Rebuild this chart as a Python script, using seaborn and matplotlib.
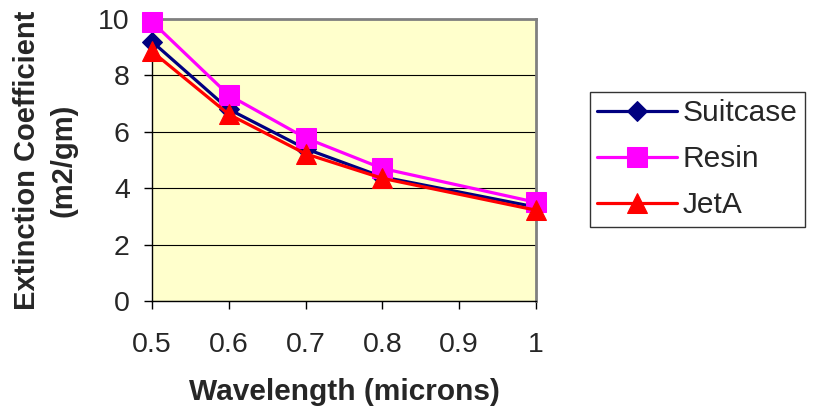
import matplotlib
matplotlib.use("Agg")
import matplotlib.pyplot as plt
import seaborn as sns
import pandas as pd

wavelength = [0.5, 0.6, 0.7, 0.8, 1.0]
suitcase = [9.2, 6.8, 5.4, 4.4, 3.33]
resin = [9.9, 7.3, 5.78, 4.7, 3.5]
jeta = [8.85, 6.62, 5.22, 4.35, 3.22]

series_names = ["Suitcase", "Resin", "JetA"]
series_values = [suitcase, resin, jeta]
colors = {"Suitcase": "#000080", "Resin": "#FF00FF", "JetA": "#FF0000"}
markers = {"Suitcase": "D", "Resin": "s", "JetA": "^"}
msizes = {"Suitcase": 10, "Resin": 15, "JetA": 15}

x_ticks = [0.5, 0.6, 0.7, 0.8, 0.9, 1.0]
x_ticklabels = ["0.5", "0.6", "0.7", "0.8", "0.9", "1"]
y_ticks = [0, 2, 4, 6, 8, 10]

sns.set_style("white")
plt.rcParams["font.family"] = ["Liberation Sans", "DejaVu Sans"]

fig = plt.figure(figsize=(8.13, 4.17), dpi=100)
ax = fig.add_axes([152/813, 1-301/417, 384/813, 282/417])
ax.set_facecolor("#FFFFCC")

for name, vals in zip(series_names, series_values):
    df = pd.DataFrame({"Wavelength": wavelength, "Value": vals, "Series": name})
    sns.lineplot(data=df, x="Wavelength", y="Value", ax=ax, color=colors[name],
                 marker=markers[name], markersize=msizes[name],
                 markeredgecolor=colors[name], linewidth=2.3, label=name,
                 clip_on=False, zorder=3)

ax.set_xlim(0.5, 1.0)
ax.set_ylim(0, 10)
ax.set_xticks(x_ticks)
ax.set_xticklabels(x_ticklabels)
ax.set_yticks(y_ticks)
ax.yaxis.grid(True, color="black", linewidth=0.8)
ax.xaxis.grid(False)
ax.set_axisbelow(True)

for s in ax.spines.values():
    s.set_color("#808080")
    s.set_linewidth(2)
ax.spines["left"].set_color("#000000")
ax.spines["left"].set_linewidth(1)
ax.spines["bottom"].set_color("#000000")
ax.spines["bottom"].set_linewidth(1)

ax.tick_params(axis="both", which="major", direction="out", length=6, width=1,
               color="black", labelsize=20.5, bottom=True, left=True)
ax.tick_params(axis="y", pad=10)
ax.tick_params(axis="x", pad=16)

ax.set_xlabel("Wavelength (microns)", fontsize=21.5, fontweight="bold", labelpad=15)
ax.set_ylabel("Extinction Coefficient\n(m2/gm)", fontsize=21, fontweight="bold",
              linespacing=1.35)
ax.yaxis.set_label_coords(-0.195, 0.5)

ax.get_legend().remove()
handles, labels = ax.get_legend_handles_labels()
leg = fig.legend(handles, labels, loc="upper left",
                 bbox_to_anchor=(590/813, 1-92/417), borderaxespad=0,
                 fontsize=21.5, frameon=True, fancybox=False, handlelength=2.65,
                 labelspacing=0.6, borderpad=0.25, handletextpad=0.2)
leg.get_frame().set_edgecolor("black")
leg.get_frame().set_linewidth(1)

fig.savefig("out.png", dpi=100, facecolor="white")
